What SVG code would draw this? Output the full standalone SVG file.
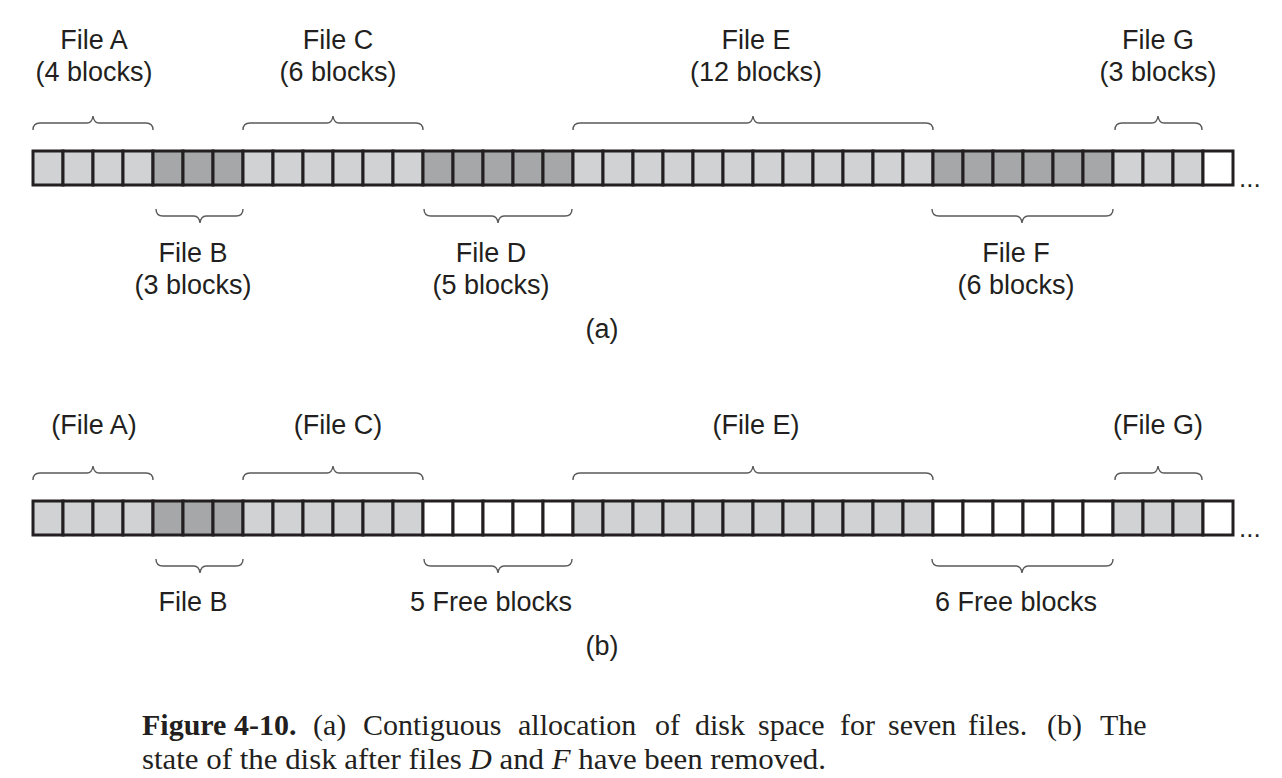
<svg xmlns="http://www.w3.org/2000/svg" width="1282" height="778" viewBox="0 0 1282 778">
<style>
.l{fill:#d1d2d4;stroke:#231f20;stroke-width:3}
.d{fill:#a6a7a9;stroke:#231f20;stroke-width:3}
.w{fill:#ffffff;stroke:#231f20;stroke-width:3}
.br{fill:none;stroke:#5a5a5a;stroke-width:1.4}
.t{font-family:"Liberation Sans",Arial,sans-serif;font-size:27px;fill:#231f20;text-anchor:middle}
.dots{font-family:"Liberation Sans",Arial,sans-serif;font-size:26px;fill:#231f20}
.c{font-family:"Liberation Serif","Times New Roman",serif;font-size:30px;fill:#231f20}
</style>
<rect width="1282" height="778" fill="#ffffff"/>
<g id="diskA">
<rect class="l" x="33" y="151" width="30" height="34"/><rect class="l" x="63" y="151" width="30" height="34"/><rect class="l" x="93" y="151" width="30" height="34"/><rect class="l" x="123" y="151" width="30" height="34"/>
<rect class="d" x="153" y="151" width="30" height="34"/><rect class="d" x="183" y="151" width="30" height="34"/><rect class="d" x="213" y="151" width="30" height="34"/>
<rect class="l" x="243" y="151" width="30" height="34"/><rect class="l" x="273" y="151" width="30" height="34"/><rect class="l" x="303" y="151" width="30" height="34"/><rect class="l" x="333" y="151" width="30" height="34"/><rect class="l" x="363" y="151" width="30" height="34"/><rect class="l" x="393" y="151" width="30" height="34"/>
<rect class="d" x="423" y="151" width="30" height="34"/><rect class="d" x="453" y="151" width="30" height="34"/><rect class="d" x="483" y="151" width="30" height="34"/><rect class="d" x="513" y="151" width="30" height="34"/><rect class="d" x="543" y="151" width="30" height="34"/>
<rect class="l" x="573" y="151" width="30" height="34"/><rect class="l" x="603" y="151" width="30" height="34"/><rect class="l" x="633" y="151" width="30" height="34"/><rect class="l" x="663" y="151" width="30" height="34"/><rect class="l" x="693" y="151" width="30" height="34"/><rect class="l" x="723" y="151" width="30" height="34"/><rect class="l" x="753" y="151" width="30" height="34"/><rect class="l" x="783" y="151" width="30" height="34"/><rect class="l" x="813" y="151" width="30" height="34"/><rect class="l" x="843" y="151" width="30" height="34"/><rect class="l" x="873" y="151" width="30" height="34"/><rect class="l" x="903" y="151" width="30" height="34"/>
<rect class="d" x="933" y="151" width="30" height="34"/><rect class="d" x="963" y="151" width="30" height="34"/><rect class="d" x="993" y="151" width="30" height="34"/><rect class="d" x="1023" y="151" width="30" height="34"/><rect class="d" x="1053" y="151" width="30" height="34"/><rect class="d" x="1083" y="151" width="30" height="34"/>
<rect class="l" x="1113" y="151" width="30" height="34"/><rect class="l" x="1143" y="151" width="30" height="34"/><rect class="l" x="1173" y="151" width="30" height="34"/>
<rect class="w" x="1203" y="151" width="30" height="34"/>
<text class="dots" x="1239" y="187">...</text>
</g>
<g id="diskB">
<rect class="l" x="33" y="501" width="30" height="34"/><rect class="l" x="63" y="501" width="30" height="34"/><rect class="l" x="93" y="501" width="30" height="34"/><rect class="l" x="123" y="501" width="30" height="34"/>
<rect class="d" x="153" y="501" width="30" height="34"/><rect class="d" x="183" y="501" width="30" height="34"/><rect class="d" x="213" y="501" width="30" height="34"/>
<rect class="l" x="243" y="501" width="30" height="34"/><rect class="l" x="273" y="501" width="30" height="34"/><rect class="l" x="303" y="501" width="30" height="34"/><rect class="l" x="333" y="501" width="30" height="34"/><rect class="l" x="363" y="501" width="30" height="34"/><rect class="l" x="393" y="501" width="30" height="34"/>
<rect class="w" x="423" y="501" width="30" height="34"/><rect class="w" x="453" y="501" width="30" height="34"/><rect class="w" x="483" y="501" width="30" height="34"/><rect class="w" x="513" y="501" width="30" height="34"/><rect class="w" x="543" y="501" width="30" height="34"/>
<rect class="l" x="573" y="501" width="30" height="34"/><rect class="l" x="603" y="501" width="30" height="34"/><rect class="l" x="633" y="501" width="30" height="34"/><rect class="l" x="663" y="501" width="30" height="34"/><rect class="l" x="693" y="501" width="30" height="34"/><rect class="l" x="723" y="501" width="30" height="34"/><rect class="l" x="753" y="501" width="30" height="34"/><rect class="l" x="783" y="501" width="30" height="34"/><rect class="l" x="813" y="501" width="30" height="34"/><rect class="l" x="843" y="501" width="30" height="34"/><rect class="l" x="873" y="501" width="30" height="34"/><rect class="l" x="903" y="501" width="30" height="34"/>
<rect class="w" x="933" y="501" width="30" height="34"/><rect class="w" x="963" y="501" width="30" height="34"/><rect class="w" x="993" y="501" width="30" height="34"/><rect class="w" x="1023" y="501" width="30" height="34"/><rect class="w" x="1053" y="501" width="30" height="34"/><rect class="w" x="1083" y="501" width="30" height="34"/>
<rect class="l" x="1113" y="501" width="30" height="34"/><rect class="l" x="1143" y="501" width="30" height="34"/><rect class="l" x="1173" y="501" width="30" height="34"/>
<rect class="w" x="1203" y="501" width="30" height="34"/>
<text class="dots" x="1239" y="537">...</text>
</g>
<g id="braces">
<path class="br" d="M33,130 Q33,123 40,123 H87 Q92,123 93,116 Q94,123 99,123 H146 Q153,123 153,130"/>
<path class="br" d="M243,130 Q243,123 250,123 H327 Q332,123 333,116 Q334,123 339,123 H416 Q423,123 423,130"/>
<path class="br" d="M573,130 Q573,123 580,123 H747 Q752,123 753,116 Q754,123 759,123 H926 Q933,123 933,130"/>
<path class="br" d="M1115,130 Q1115,123 1122,123 H1152 Q1157,123 1158,116 Q1159,123 1164,123 H1195 Q1202,123 1202,130"/>
<path class="br" d="M156,209 Q156,216 163,216 H194 Q199,216 200,223 Q201,216 206,216 H236 Q243,216 243,209"/>
<path class="br" d="M424,209 Q424,216 431,216 H492 Q497,216 498,223 Q499,216 504,216 H565 Q572,216 572,209"/>
<path class="br" d="M932,209 Q932,216 939,216 H1016 Q1021,216 1022,223 Q1023,216 1028,216 H1106 Q1113,216 1113,209"/>
<path class="br" d="M33,480 Q33,473 40,473 H87 Q92,473 93,466 Q94,473 99,473 H146 Q153,473 153,480"/>
<path class="br" d="M243,480 Q243,473 250,473 H327 Q332,473 333,466 Q334,473 339,473 H416 Q423,473 423,480"/>
<path class="br" d="M573,480 Q573,473 580,473 H747 Q752,473 753,466 Q754,473 759,473 H926 Q933,473 933,480"/>
<path class="br" d="M1115,480 Q1115,473 1122,473 H1152 Q1157,473 1158,466 Q1159,473 1164,473 H1195 Q1202,473 1202,480"/>
<path class="br" d="M156,559 Q156,566 163,566 H194 Q199,566 200,573 Q201,566 206,566 H236 Q243,566 243,559"/>
<path class="br" d="M424,559 Q424,566 431,566 H492 Q497,566 498,573 Q499,566 504,566 H565 Q572,566 572,559"/>
<path class="br" d="M932,559 Q932,566 939,566 H1016 Q1021,566 1022,573 Q1023,566 1028,566 H1106 Q1113,566 1113,559"/>
</g>
<g id="labelsA">
<text class="t" x="94" y="49">File A</text><text class="t" x="94" y="81">(4 blocks)</text>
<text class="t" x="338" y="49">File C</text><text class="t" x="338" y="81">(6 blocks)</text>
<text class="t" x="756" y="49">File E</text><text class="t" x="756" y="81">(12 blocks)</text>
<text class="t" x="1158" y="49">File G</text><text class="t" x="1158" y="81">(3 blocks)</text>
<text class="t" x="193" y="262">File B</text><text class="t" x="193" y="294">(3 blocks)</text>
<text class="t" x="491" y="262">File D</text><text class="t" x="491" y="294">(5 blocks)</text>
<text class="t" x="1016" y="262">File F</text><text class="t" x="1016" y="294">(6 blocks)</text>
<text class="t" x="602" y="338">(a)</text>
</g>
<g id="labelsB">
<text class="t" x="94" y="434">(File A)</text>
<text class="t" x="338" y="434">(File C)</text>
<text class="t" x="756" y="434">(File E)</text>
<text class="t" x="1158" y="434">(File G)</text>
<text class="t" x="193" y="611">File B</text>
<text class="t" x="491" y="611">5 Free blocks</text>
<text class="t" x="1016" y="611">6 Free blocks</text>
<text class="t" x="602" y="655">(b)</text>
</g>
<g id="caption">
<text class="c" y="735"><tspan x="142" font-weight="bold">Figure 4-10.</tspan><tspan x="313">(a)</tspan><tspan x="363">Contiguous</tspan><tspan x="518">allocation</tspan><tspan x="655">of</tspan><tspan x="695">disk</tspan><tspan x="758">space</tspan><tspan x="840">for</tspan><tspan x="888">seven</tspan><tspan x="968">files.</tspan><tspan x="1047">(b)</tspan><tspan x="1100">The</tspan></text>
<text class="c" x="142" y="769" textLength="684" lengthAdjust="spacingAndGlyphs">state of the disk after files <tspan font-style="italic">D</tspan> and <tspan font-style="italic">F</tspan> have been removed.</text>
</g>
</svg>
